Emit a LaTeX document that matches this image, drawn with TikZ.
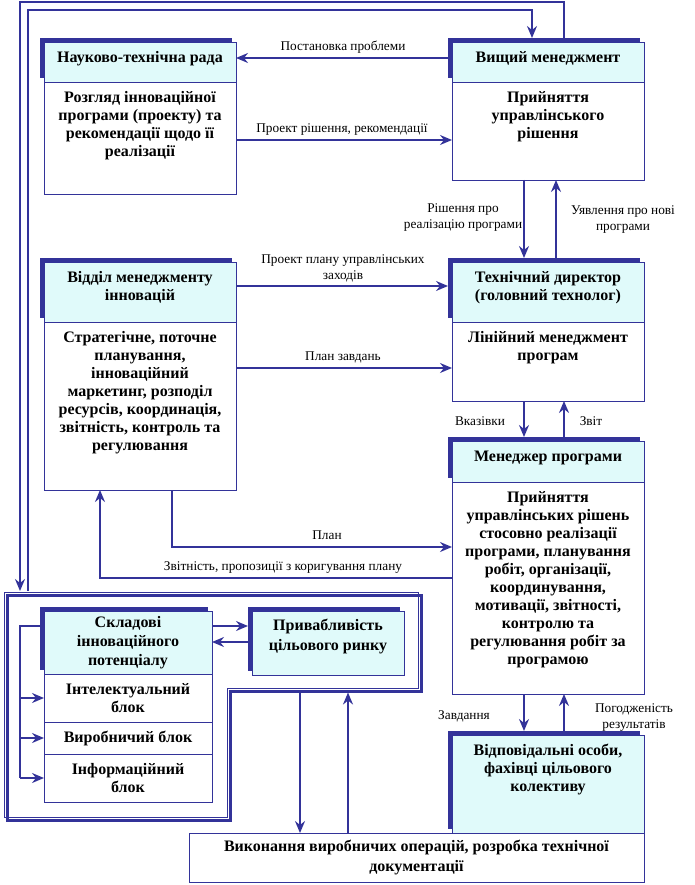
\documentclass[tikz,border=0pt]{standalone}
\usepackage{fontspec}
\setmainfont{Liberation Serif}
\usetikzlibrary{arrows.meta}
\definecolor{dblue}{RGB}{51,51,153}
\definecolor{lcyan}{RGB}{224,250,250}
\newcommand{\mybox}[8]{%
  \node[shad, minimum width=#4, minimum height=#5] (#1S) at (#2-4,#3-4) {};
  \node[hdr, minimum width=#4, minimum height=#5] (#1H) at (#2,#3) {};
  \node[bod, minimum width=#4, minimum height=#6] (#1B) at (#2,#3+#5) {};
  \node[btxt] (#1Ht) at ([yshift=-7.4pt]#1H.north) {\strut #7};
  \node[btxt] (#1Bt) at ([yshift=-7.4pt]#1B.north) {\strut #8};
}
\begin{document}
\begin{tikzpicture}[x=1pt,y=-1pt,
  shad/.style={fill=dblue, draw=none, inner sep=0, outer sep=0, anchor=north west},
  hdr/.style={fill=lcyan, draw=dblue, line width=0.9pt, inner sep=0, outer sep=0, anchor=north west},
  bod/.style={fill=white, draw=dblue, line width=0.9pt, inner sep=0, outer sep=0, anchor=north west},
  bfont/.style={font=\fontsize{16}{18}\selectfont\bfseries, align=center},
  btxt/.style={bfont, inner sep=0, anchor=north},
  lbl/.style={font=\fontsize{13.3}{16}\selectfont, align=center, inner sep=0, anchor=north},
  conn/.style={draw=dblue, line width=1.8pt, -{Stealth[length=12pt,width=10pt,inset=4pt]}},
  plain/.style={draw=dblue, line width=1.8pt},
]
\useasboundingbox (0,0) rectangle (694,885);

% frame
\draw[dblue, line width=0.9pt] (4,592) -- (418,592) -- (418,688) -- (227,688) -- (227,817) -- (4,817) -- cycle;
\draw[dblue, line width=3pt] (7,595) -- (421,595) -- (421,691) -- (230,691) -- (230,820) -- (7,820) -- cycle;
\coordinate (fa) at (20,591);
\coordinate (fb) at (28,591);
\coordinate (fc) at (300,692.5);
\coordinate (fd) at (348,692.5);

% boxes
\mybox{ntr}{44}{42}{192}{40}{112}{Науково-технічна рада}{Розгляд інноваційної\\програми (проекту) та\\рекомендації щодо її\\реалізації}
\mybox{vm}{452}{42}{192}{40}{98}{Вищий менеджмент}{Прийняття\\управлінського\\рішення}
\mybox{vidm}{44}{262}{192}{60}{168}{Відділ менеджменту\\інновацій}{Стратегічне, поточне\\планування,\\інноваційний\\маркетинг, розподіл\\ресурсів, координація,\\звітність, контроль та\\регулювання}
\mybox{td}{452}{262}{192}{60}{79}{Технічний директор\\(головний технолог)}{Лінійний менеджмент\\програм}
\mybox{mp}{452}{441}{192}{41}{212}{Менеджер програми}{Прийняття\\управлінських рішень\\стосовно реалізації\\програми, планування\\робіт, організації,\\координування,\\мотивації, звітності,\\контролю та\\регулювання робіт за\\програмою}

% bottom box
\node[bod, bfont, font=\fontsize{16}{20}\selectfont\bfseries, minimum width=455, minimum height=49] (bot) at (189,833) {Виконання виробничих операцій, розробка технічної\\документації};

% responsible persons
\node[shad, minimum width=192, minimum height=98] (vidpS) at (448,731) {};
\node[hdr, minimum width=192, minimum height=98] (vidp) at (452,735) {};
\node[btxt] (vidpt) at ([yshift=-7.4pt]vidp.north) {\strut Відповідальні особи,\\фахівці цільового\\колективу};

% components
\node[shad, minimum width=168, minimum height=63] (skS) at (40,607) {};
\node[hdr, bfont, font=\fontsize{16}{19}\selectfont\bfseries, minimum width=168, minimum height=63] (skH) at (44,611) {Складові\\інноваційного\\потенціалу};
\node[bod, bfont, minimum width=168, minimum height=48] (sk1) at (44,674) {Інтелектуальний\\блок};
\node[bod, bfont, minimum width=168, minimum height=32] (sk2) at (44,722) {Виробничий блок};
\node[bod, bfont, minimum width=168, minimum height=48] (sk3) at (44,754) {Інформаційний\\блок};

% market attractiveness
\node[shad, minimum width=152, minimum height=64] (prS) at (248,607) {};
\node[hdr, minimum width=152, minimum height=64] (prH) at (252,611) {};
\node[btxt, font=\fontsize{16}{20}\selectfont\bfseries] (prt) at ([yshift=-5.5pt]prH.north) {\strut Привабливість\\цільового ринку};

% connectors
\draw[conn] (vmS.north -| 564,0) -- (564,2) -- (20,2) -- (fa);
\draw[conn] (fb) -- (28,10) -- (532,10) -- (vmS.north -| 532,0);
\draw[conn] (vmS.west |- 0,58) -- (ntrH.east |- 0,58);
\draw[conn] (ntrB.east |- 0,140) -- (vmB.west |- 0,140);
\draw[conn] (vmB.south -| 524,0) -- (tdS.north -| 524,0);
\draw[conn] (tdS.north -| 556,0) -- (vmB.south -| 556,0);
\draw[conn] (vidmH.east |- 0,286) -- (tdS.west |- 0,286);
\draw[conn] (vidmB.east |- 0,368) -- (tdB.west |- 0,368);
\draw[conn] (tdB.south -| 524,0) -- (mpS.north -| 524,0);
\draw[conn] (mpS.north -| 564,0) -- (tdB.south -| 564,0);
\draw[conn] (vidmB.south -| 172,0) |- (mpB.west |- 0,547);
\draw[conn] (mpB.west |- 0,578) -| (vidmB.south -| 100,0);
\draw[conn] (mpB.south -| 524,0) -- (vidpS.north -| 524,0);
\draw[conn] (vidpS.north -| 564,0) -- (mpB.south -| 564,0);

\coordinate (br1) at (20,698);
\coordinate (br2) at (20,738);
\coordinate (br3) at (20,778);
\draw[plain] (skS.west |- 0,626) -| (br3);
\draw[conn] (br1) -- (sk1.west |- br1);
\draw[conn] (br2) -- (sk2.west |- br2);
\draw[conn] (br3) -- (sk3.west |- br3);
\draw[conn] (skH.east |- 0,626) -- (prS.west |- 0,626);
\draw[conn] (prH.west |- 0,642) -- (skH.east |- 0,642);
\draw[conn] (fc) -- (bot.north -| fc);
\draw[conn] (bot.north -| fd) -- (fd);

% labels
\node[lbl] (l1) at (343,38.8) {\strut Постановка проблеми};
\node[lbl] (l2) at (342,120.8) {\strut Проект рішення, рекомендації};
\node[lbl] (l3) at (463,200.8) {\strut Рішення про\\реалізацію програми};
\node[lbl] (l4) at (623,202.8) {\strut Уявлення про нові\\програми};
\node[lbl] (l5) at (343,251.8) {\strut Проект плану управлінських\\заходів};
\node[lbl] (l6) at (343,348.8) {\strut План завдань};
\node[lbl] (l7) at (480,413.8) {\strut Вказівки};
\node[lbl] (l8) at (591,413.8) {\strut Звіт};
\node[lbl] (l9) at (327,527.8) {\strut План};
\node[lbl] (l10) at (283,558.8) {\strut Звітність, пропозиції з коригування плану};
\node[lbl] (l11) at (464,707.8) {\strut Завдання};
\node[lbl] (l12) at (634,700.8) {\strut Погодженість\\результатів};
\end{tikzpicture}
\end{document}
